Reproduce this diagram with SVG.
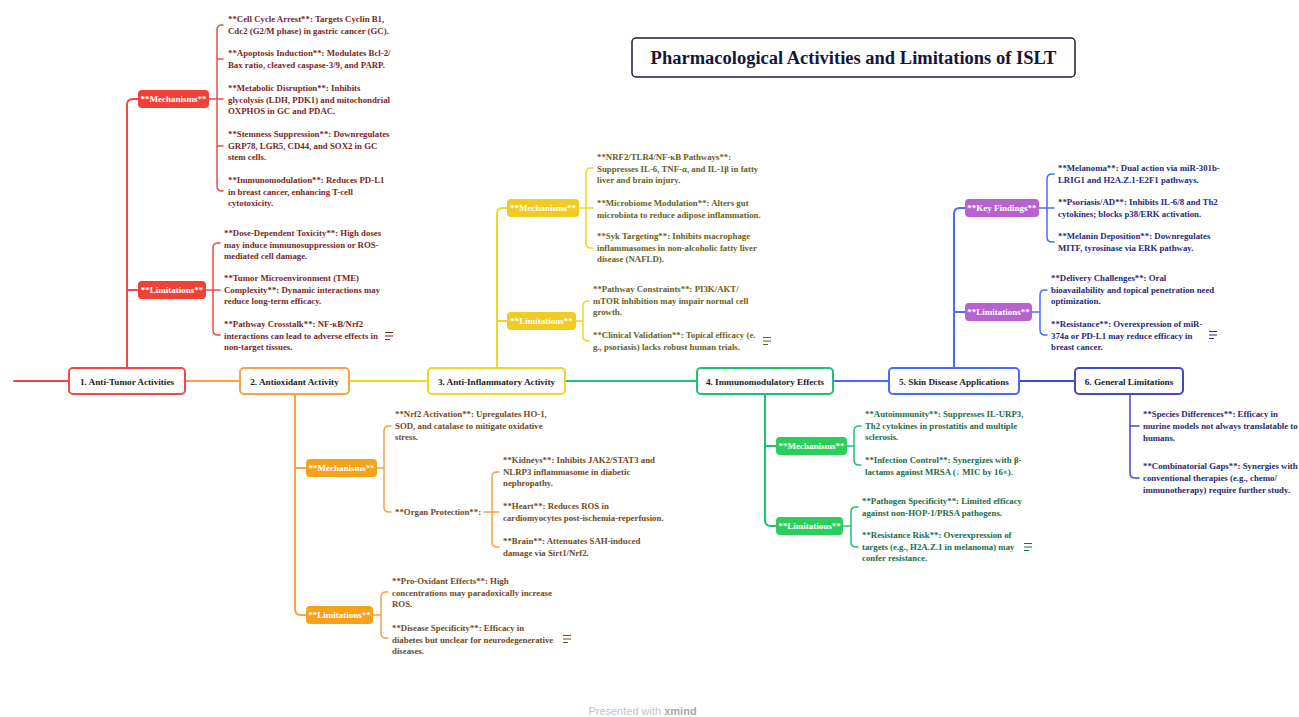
<svg xmlns="http://www.w3.org/2000/svg" width="1299" height="717" viewBox="0 0 1299 717">
<style>
text{font-family:"Liberation Serif","Times New Roman",serif;font-weight:bold;font-size:8.8px}
.topic rect{fill:#fff;stroke-width:2}
.topic text{fill:#1c1c1c;text-anchor:middle;font-size:9.2px}
.pill text{fill:#fff;text-anchor:middle;font-size:9px}
.conn path{fill:none;stroke-linecap:round}
.main{stroke-width:2}
.sub{stroke-width:1.5}
.t1{fill:#7a1f1f}.t2{fill:#6e4a1f}.t3{fill:#67621a}.t4{fill:#1d6c48}.t5{fill:#27297a}.t6{fill:#29296f}
</style>
<defs>
<g id="note"><path d="M-4,-3.5H4M-4,0H4M-4,3.5H1" stroke="currentColor" stroke-width="1" fill="none"/></g>
</defs>
<rect width="1299" height="717" fill="#fff"/>

<g id="title">
<rect x="632" y="38" width="443" height="39" rx="4" fill="#fff" stroke="#1b1b3b" stroke-width="1.5"/>
<text x="853.5" y="64" text-anchor="middle" style="font-size:18.5px;fill:#16163a">Pharmacological Activities and Limitations of ISLT</text>
</g>

<g id="connectors" class="conn">
<path class="main" d="M14,381H69" stroke="#ef4444"/>
<path class="main" d="M185,381H240" stroke="#f5a24b"/>
<path class="main" d="M349,381H428" stroke="#f5d327"/>
<path class="main" d="M565,381H697" stroke="#1fc173"/>
<path class="main" d="M833,381H889" stroke="#4a6cf7"/>
<path class="main" d="M1019,381H1075" stroke="#4a46c8"/>
<!-- T1 -->
<g stroke="#ef4a46">
<path class="main" d="M127,368V105Q127,99 133,99H138M127,290H138"/>
<path class="sub" d="M209,99H223M223,25H222Q217,25 217,30V186Q217,191 222,191H223M217,59H223M217,146H223"/>
<path class="sub" d="M206,290H220M220,243H218Q213,243 213,248V330Q213,335 218,335H220"/>
</g>
<!-- T2 -->
<g stroke="#f5a24b">
<path class="main" d="M295,394V609Q295,615 301,615H306M295,468H306"/>
<path class="sub" d="M377,468H384M391,426H389Q384,426 384,431V507Q384,512 389,512H391"/>
<path class="sub" d="M484,512H499M499,472H497Q492,472 492,477V542Q492,547 497,547H499"/>
<path class="sub" d="M373,615H381M388,592H386Q381,592 381,597V633Q381,638 386,638H388"/>
</g>
<!-- T3 -->
<g stroke="#f5d327">
<path class="main" d="M497,368V214Q497,208 503,208H507M497,321H507"/>
<path class="sub" d="M579,208H593M593,168H591Q586,168 586,173V243Q586,248 591,248H593"/>
<path class="sub" d="M576,321H583M589,301H588Q583,301 583,306V336Q583,341 588,341H589"/>
</g>
<!-- T4 -->
<g stroke="#1fc173">
<path class="main" d="M765,394V520Q765,526 771,526H776M765,446H776"/>
<path class="sub" d="M847,446H854M861,426H859Q854,426 854,431V460Q854,465 859,465H861"/>
<path class="sub" d="M843,526H851M858,507H856Q851,507 851,512V542Q851,547 856,547H858"/>
</g>
<!-- T5 -->
<g stroke="#4a6cf7">
<path class="main" d="M954,368V214Q954,208 960,208H965M954,312H965"/>
<path class="sub" d="M1039,208H1054M1054,174H1052Q1047,174 1047,179V237Q1047,242 1052,242H1054"/>
<path class="sub" d="M1032,312H1040M1047,290H1045Q1040,290 1040,295V330Q1040,335 1045,335H1047"/>
</g>
<!-- T6 -->
<g stroke="#4a46c8">
<path class="sub" d="M1130,394V473Q1130,478 1135,478H1139M1130,426H1139"/>
</g>
</g>

<g id="topic1" class="topic"><rect x="69" y="368" width="116" height="26" rx="4" stroke="#ef4a46"/><text x="127" y="384.5">1. Anti-Tumor Activities</text></g>
<g id="topic2" class="topic"><rect x="240" y="368" width="109" height="26" rx="4" stroke="#f5a24b"/><text x="294.5" y="384.5">2. Antioxidant Activity</text></g>
<g id="topic3" class="topic"><rect x="428" y="368" width="137" height="26" rx="4" stroke="#f5d327"/><text x="496.5" y="384.5">3. Anti-Inflammatory Activity</text></g>
<g id="topic4" class="topic"><rect x="697" y="368" width="136" height="26" rx="4" stroke="#1fc173"/><text x="765" y="384.5">4. Immunomodulatory Effects</text></g>
<g id="topic5" class="topic"><rect x="889" y="368" width="130" height="26" rx="4" stroke="#4a6cf7"/><text x="954" y="384.5">5. Skin Disease Applications</text></g>
<g id="topic6" class="topic"><rect x="1075" y="368" width="108" height="26" rx="4" stroke="#4a46c8"/><text x="1129" y="384.5">6. General Limitations</text></g>

<!-- Topic 1 children -->
<g id="t1-mech" class="pill"><rect x="138" y="90" width="71" height="18" rx="4" fill="#ef4136"/><text x="173.5" y="102">**Mechanisms**</text></g>
<g id="t1-mech-items" class="t1">
<text x="228" y="22"><tspan>**Cell Cycle Arrest**: Targets Cyclin B1,</tspan><tspan x="228" dy="11.8">Cdc2 (G2/M phase) in gastric cancer (GC).</tspan></text>
<text x="228" y="56"><tspan>**Apoptosis Induction**: Modulates Bcl-2/</tspan><tspan x="228" dy="11.8">Bax ratio, cleaved caspase-3/9, and PARP.</tspan></text>
<text x="228" y="91"><tspan>**Metabolic Disruption**: Inhibits</tspan><tspan x="228" dy="11.6">glycolysis (LDH, PDK1) and mitochondrial</tspan><tspan x="228" dy="11.6">OXPHOS in GC and PDAC.</tspan></text>
<text x="228" y="137"><tspan>**Stemness Suppression**: Downregulates</tspan><tspan x="228" dy="11.6">GRP78, LGR5, CD44, and SOX2 in GC</tspan><tspan x="228" dy="11.6">stem cells.</tspan></text>
<text x="228" y="183"><tspan>**Immunomodulation**: Reduces PD-L1</tspan><tspan x="228" dy="11.6">in breast cancer, enhancing T-cell</tspan><tspan x="228" dy="11.6">cytotoxicity.</tspan></text>
</g>
<g id="t1-lim" class="pill"><rect x="138" y="281" width="68" height="18" rx="4" fill="#ef4136"/><text x="172" y="293">**Limitations**</text></g>
<g id="t1-lim-items" class="t1">
<text x="224" y="236"><tspan>**Dose-Dependent Toxicity**: High doses</tspan><tspan x="224" dy="11.6">may induce immunosuppression or ROS-</tspan><tspan x="224" dy="11.6">mediated cell damage.</tspan></text>
<text x="224" y="281"><tspan>**Tumor Microenvironment (TME)</tspan><tspan x="224" dy="11.6">Complexity**: Dynamic interactions may</tspan><tspan x="224" dy="11.6">reduce long-term efficacy.</tspan></text>
<text x="224" y="327"><tspan>**Pathway Crosstalk**: NF-κB/Nrf2</tspan><tspan x="224" dy="11.6">interactions can lead to adverse effects in</tspan><tspan x="224" dy="11.6">non-target tissues.</tspan></text>
<use href="#note" x="389" y="336" color="#7a1f1f"/>
</g>

<!-- Topic 2 children -->
<g id="t2-mech" class="pill"><rect x="306" y="459" width="71" height="18" rx="4" fill="#f7a21b"/><text x="341.5" y="471">**Mechanisms**</text></g>
<g id="t2-mech-items" class="t2">
<text x="395" y="417"><tspan>**Nrf2 Activation**: Upregulates HO-1,</tspan><tspan x="395" dy="11.6">SOD, and catalase to mitigate oxidative</tspan><tspan x="395" dy="11.6">stress.</tspan></text>
<text x="395" y="515">**Organ Protection**:</text>
<text x="503" y="463"><tspan>**Kidneys**: Inhibits JAK2/STAT3 and</tspan><tspan x="503" dy="11.6">NLRP3 inflammasome in diabetic</tspan><tspan x="503" dy="11.6">nephropathy.</tspan></text>
<text x="503" y="509"><tspan>**Heart**: Reduces ROS in</tspan><tspan x="503" dy="11.8">cardiomyocytes post-ischemia-reperfusion.</tspan></text>
<text x="503" y="544"><tspan>**Brain**: Attenuates SAH-induced</tspan><tspan x="503" dy="11.8">damage via Sirt1/Nrf2.</tspan></text>
</g>
<g id="t2-lim" class="pill"><rect x="306" y="606" width="67" height="18" rx="4" fill="#f7a21b"/><text x="339.5" y="618">**Limitations**</text></g>
<g id="t2-lim-items" class="t2">
<text x="392" y="584"><tspan>**Pro-Oxidant Effects**: High</tspan><tspan x="392" dy="11.6">concentrations may paradoxically increase</tspan><tspan x="392" dy="11.6">ROS.</tspan></text>
<text x="392" y="631"><tspan>**Disease Specificity**: Efficacy in</tspan><tspan x="392" dy="11.6">diabetes but unclear for neurodegenerative</tspan><tspan x="392" dy="11.6">diseases.</tspan></text>
<use href="#note" x="567" y="639" color="#6e4a1f"/>
</g>

<!-- Topic 3 children -->
<g id="t3-mech" class="pill"><rect x="507" y="199" width="72" height="18" rx="4" fill="#f0cb22"/><text x="543" y="211">**Mechanisms**</text></g>
<g id="t3-mech-items" class="t3">
<text x="597" y="160"><tspan>**NRF2/TLR4/NF-κB Pathways**:</tspan><tspan x="597" dy="11.6">Suppresses IL-6, TNF-α, and IL-1β in fatty</tspan><tspan x="597" dy="11.6">liver and brain injury.</tspan></text>
<text x="597" y="206"><tspan>**Microbiome Modulation**: Alters gut</tspan><tspan x="597" dy="11.8">microbiota to reduce adipose inflammation.</tspan></text>
<text x="597" y="239"><tspan>**Syk Targeting**: Inhibits macrophage</tspan><tspan x="597" dy="11.6">inflammasomes in non-alcoholic fatty liver</tspan><tspan x="597" dy="11.6">disease (NAFLD).</tspan></text>
</g>
<g id="t3-lim" class="pill"><rect x="507" y="312" width="69" height="18" rx="4" fill="#f0cb22"/><text x="541.5" y="324">**Limitations**</text></g>
<g id="t3-lim-items" class="t3">
<text x="593" y="292"><tspan>**Pathway Constraints**: PI3K/AKT/</tspan><tspan x="593" dy="11.6">mTOR inhibition may impair normal cell</tspan><tspan x="593" dy="11.6">growth.</tspan></text>
<text x="593" y="338"><tspan>**Clinical Validation**: Topical efficacy (e.</tspan><tspan x="593" dy="11.8">g., psoriasis) lacks robust human trials.</tspan></text>
<use href="#note" x="767" y="341" color="#67621a"/>
</g>

<!-- Topic 4 children -->
<g id="t4-mech" class="pill"><rect x="776" y="437" width="71" height="18" rx="4" fill="#2dcd5c"/><text x="811.5" y="449">**Mechanisms**</text></g>
<g id="t4-mech-items" class="t4">
<text x="865" y="417"><tspan>**Autoimmunity**: Suppresses IL-URP3,</tspan><tspan x="865" dy="11.6">Th2 cytokines in prostatitis and multiple</tspan><tspan x="865" dy="11.6">sclerosis.</tspan></text>
<text x="865" y="463"><tspan>**Infection Control**: Synergizes with β-</tspan><tspan x="865" dy="11.8">lactams against MRSA (↓ MIC by 16×).</tspan></text>
</g>
<g id="t4-lim" class="pill"><rect x="776" y="517" width="67" height="18" rx="4" fill="#2dcd5c"/><text x="809.5" y="529">**Limitations**</text></g>
<g id="t4-lim-items" class="t4">
<text x="862" y="504"><tspan>**Pathogen Specificity**: Limited efficacy</tspan><tspan x="862" dy="11.8">against non-HOP-1/PRSA pathogens.</tspan></text>
<text x="862" y="538"><tspan>**Resistance Risk**: Overexpression of</tspan><tspan x="862" dy="11.6">targets (e.g., H2A.Z.1 in melanoma) may</tspan><tspan x="862" dy="11.6">confer resistance.</tspan></text>
<use href="#note" x="1028" y="547" color="#1d6c48"/>
</g>

<!-- Topic 5 children -->
<g id="t5-key" class="pill"><rect x="965" y="199" width="74" height="18" rx="4" fill="#b862d0"/><text x="1002" y="211">**Key Findings**</text></g>
<g id="t5-key-items" class="t5">
<text x="1058" y="171"><tspan>**Melanoma**: Dual action via miR-301b-</tspan><tspan x="1058" dy="11.8">LRIG1 and H2A.Z.1-E2F1 pathways.</tspan></text>
<text x="1058" y="205"><tspan>**Psoriasis/AD**: Inhibits IL-6/8 and Th2</tspan><tspan x="1058" dy="11.8">cytokines; blocks p38/ERK activation.</tspan></text>
<text x="1058" y="239"><tspan>**Melanin Deposition**: Downregulates</tspan><tspan x="1058" dy="11.8">MITF, tyrosinase via ERK pathway.</tspan></text>
</g>
<g id="t5-lim" class="pill"><rect x="965" y="303" width="67" height="18" rx="4" fill="#b862d0"/><text x="998.5" y="315">**Limitations**</text></g>
<g id="t5-lim-items" class="t5">
<text x="1051" y="281"><tspan>**Delivery Challenges**: Oral</tspan><tspan x="1051" dy="11.6">bioavailability and topical penetration need</tspan><tspan x="1051" dy="11.6">optimization.</tspan></text>
<text x="1051" y="327"><tspan>**Resistance**: Overexpression of miR-</tspan><tspan x="1051" dy="11.6">374a or PD-L1 may reduce efficacy in</tspan><tspan x="1051" dy="11.6">breast cancer.</tspan></text>
<use href="#note" x="1213" y="335" color="#27297a"/>
</g>

<!-- Topic 6 children -->
<g id="t6-items" class="t6">
<text x="1143" y="417"><tspan>**Species Differences**: Efficacy in</tspan><tspan x="1143" dy="11.8">murine models not always translatable to</tspan><tspan x="1143" dy="11.8">humans.</tspan></text>
<text x="1143" y="469"><tspan>**Combinatorial Gaps**: Synergies with</tspan><tspan x="1143" dy="11.8">conventional therapies (e.g., chemo/</tspan><tspan x="1143" dy="11.8">immunotherapy) require further study.</tspan></text>
</g>

<g id="footer"><text x="642.5" y="715" text-anchor="middle" style="font-family:'Liberation Sans',Arial,sans-serif;font-weight:normal;font-size:11px;fill:#c4c4c4">Presented with <tspan style="font-weight:bold;fill:#a8a8a8">xmind</tspan></text></g>
</svg>
